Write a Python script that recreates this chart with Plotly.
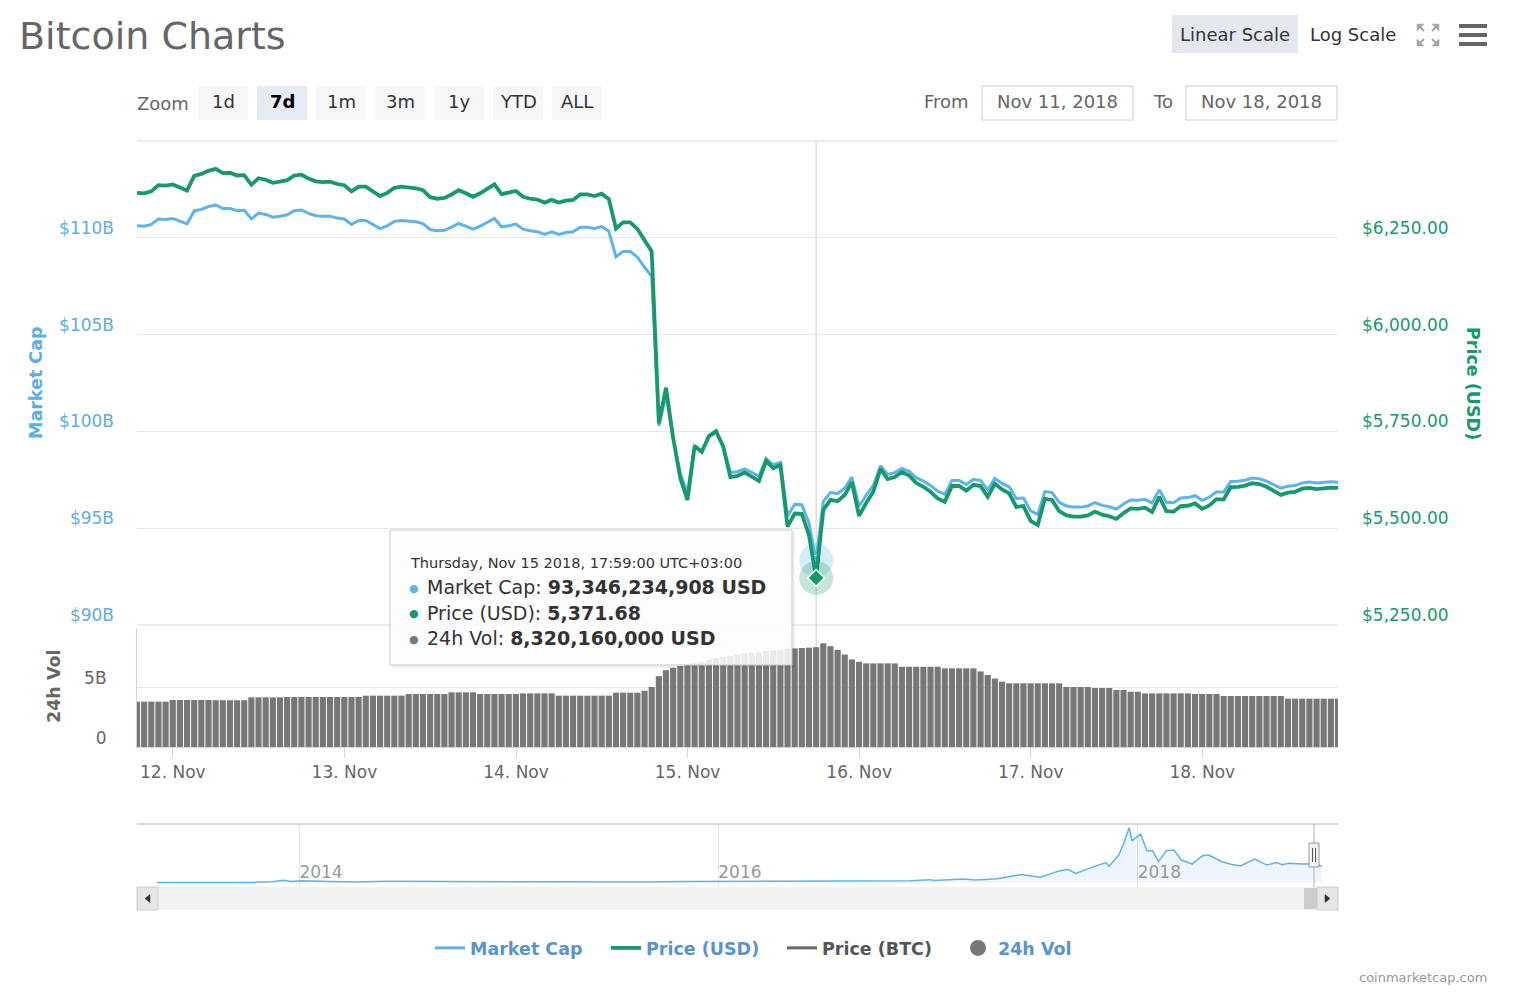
"""Bitcoin Charts (coinmarketcap 7d view) rebuilt with Plotly."""

import pandas as pd
import plotly.graph_objects as go

W, H = 1518, 992
FONT = "DejaVu Sans"
BLUE = "#5fb3e8"
GREEN = "#17996c"
BAR_GREY = "#777777"
LEGEND_BLUE = "#5b93cc"
TEXT = "#666666"
DARK = "#333333"
GRID = "#e6e6e6"
AXIS = "#ccd6eb"

# hourly samples from Nov 11 18:59 to Nov 18 18:59 (UTC+03:00)
START = "2018-11-11 18:59"
HOVER_IDX = 95

price_usd = [
    6366, 6365, 6370, 6386, 6385, 6388, 6380, 6372, 6410, 6415,
    6423, 6428, 6417, 6418, 6411, 6412, 6387, 6404, 6400, 6392,
    6395, 6399, 6411, 6413, 6403, 6396, 6394, 6395, 6389, 6386,
    6370, 6382, 6382, 6370, 6358, 6366, 6379, 6382, 6380, 6378,
    6373, 6355, 6351, 6353, 6362, 6373, 6365, 6356, 6365, 6376,
    6388, 6363, 6366, 6371, 6356, 6351, 6349, 6341, 6348, 6341,
    6346, 6348, 6362, 6362, 6358, 6364, 6350, 6274, 6290, 6290,
    6273, 6243, 6215, 5771, 5863, 5733, 5629, 5573, 5712, 5697,
    5738, 5751, 5711, 5632, 5635, 5644, 5632, 5622, 5674, 5655,
    5663, 5504, 5538, 5537, 5482, 5371.68, 5547, 5573, 5570, 5586,
    5619, 5532, 5565, 5594, 5653, 5627, 5632, 5645, 5636, 5617,
    5607, 5594, 5577, 5568, 5609, 5609, 5597, 5612, 5609, 5581,
    5615, 5600, 5590, 5555, 5557, 5519, 5508, 5576, 5573, 5544,
    5533, 5530, 5530, 5533, 5543, 5535, 5531, 5524, 5539, 5551,
    5550, 5553, 5542, 5581, 5544, 5543, 5557, 5558, 5564, 5550,
    5559, 5575, 5574, 5606, 5607, 5610, 5616, 5614, 5607, 5596,
    5586, 5592, 5594, 5602, 5604, 5601, 5603, 5605, 5604,
]

market_cap_bn = [
    110.62, 110.60, 110.69, 110.97, 110.95, 111.00, 110.86, 110.72, 111.39, 111.47,
    111.61, 111.70, 111.51, 111.52, 111.40, 111.42, 110.98, 111.28, 111.21, 111.07,
    111.12, 111.19, 111.40, 111.44, 111.26, 111.14, 111.11, 111.12, 111.02, 110.97,
    110.69, 110.90, 110.90, 110.69, 110.48, 110.62, 110.85, 110.90, 110.86, 110.83,
    110.74, 110.43, 110.36, 110.39, 110.55, 110.74, 110.60, 110.45, 110.60, 110.79,
    111.00, 110.57, 110.62, 110.71, 110.45, 110.36, 110.32, 110.18, 110.31, 110.18,
    110.27, 110.31, 110.55, 110.55, 110.48, 110.58, 110.34, 109.02, 109.30, 109.30,
    109.00, 108.48, 108.00, 100.28, 101.88, 99.62, 97.81, 96.84, 99.26, 98.99,
    99.71, 99.93, 99.24, 97.87, 97.92, 98.07, 97.87, 97.69, 98.60, 98.27,
    98.40, 95.64, 96.23, 96.21, 95.26, 93.346234908, 96.39, 96.84, 96.79, 97.07,
    97.64, 96.13, 96.70, 97.21, 98.23, 97.78, 97.87, 98.09, 97.94, 97.61,
    97.43, 97.21, 96.91, 96.75, 97.47, 97.47, 97.26, 97.52, 97.47, 96.98,
    97.57, 97.31, 97.14, 96.53, 96.56, 95.90, 95.71, 96.89, 96.84, 96.34,
    96.15, 96.09, 96.09, 96.15, 96.32, 96.18, 96.11, 95.99, 96.25, 96.46,
    96.44, 96.49, 96.30, 96.98, 96.34, 96.32, 96.56, 96.58, 96.68, 96.44,
    96.60, 96.88, 96.86, 97.41, 97.43, 97.48, 97.59, 97.55, 97.43, 97.24,
    97.07, 97.17, 97.21, 97.34, 97.38, 97.33, 97.36, 97.40, 97.38,
]

vol_24h_bn = [
    3.78, 3.78, 3.78, 3.78, 3.78, 3.92, 3.92, 3.92, 3.92, 3.92,
    3.92, 3.90, 3.90, 3.90, 3.90, 3.90, 4.14, 4.14, 4.14, 4.14,
    4.14, 4.17, 4.17, 4.17, 4.17, 4.17, 4.17, 4.17, 4.17, 4.17,
    4.17, 4.17, 4.28, 4.28, 4.28, 4.28, 4.28, 4.28, 4.42, 4.42,
    4.42, 4.42, 4.42, 4.42, 4.56, 4.56, 4.56, 4.56, 4.42, 4.42,
    4.42, 4.42, 4.42, 4.42, 4.47, 4.47, 4.47, 4.47, 4.47, 4.28,
    4.28, 4.28, 4.28, 4.28, 4.28, 4.28, 4.28, 4.53, 4.53, 4.53,
    4.53, 4.69, 5.00, 5.90, 6.40, 6.60, 6.75, 6.85, 6.97, 7.10,
    7.25, 7.40, 7.50, 7.60, 7.70, 7.80, 7.85, 7.90, 8.00, 8.05,
    8.10, 8.20, 8.22, 8.25, 8.28, 8.32016, 8.64, 8.40, 8.10, 7.70,
    7.30, 7.10, 6.97, 6.97, 6.97, 6.97, 6.97, 6.69, 6.69, 6.69,
    6.69, 6.69, 6.69, 6.56, 6.56, 6.56, 6.56, 6.56, 6.30, 6.00,
    5.70, 5.45, 5.31, 5.31, 5.31, 5.31, 5.31, 5.31, 5.31, 5.31,
    5.00, 5.00, 5.00, 5.00, 4.92, 4.92, 4.92, 4.75, 4.75, 4.61,
    4.61, 4.47, 4.47, 4.47, 4.47, 4.47, 4.47, 4.47, 4.42, 4.42,
    4.42, 4.42, 4.25, 4.25, 4.25, 4.25, 4.25, 4.25, 4.25, 4.25,
    4.25, 4.03, 4.03, 4.03, 4.03, 4.03, 4.03, 4.03, 4.03,
]

day_ticks = ["2018-11-12", "2018-11-13", "2018-11-14", "2018-11-15",
             "2018-11-16", "2018-11-17", "2018-11-18"]
day_labels = ["12. Nov", "13. Nov", "14. Nov", "15. Nov", "16. Nov", "17. Nov", "18. Nov"]

mcap_ticks = [90, 95, 100, 105, 110, 115]
mcap_labels = ["$90B", "$95B", "$100B", "$105B", "$110B", ""]
price_ticks = [5250, 5500, 5750, 6000, 6250, 6500]
price_labels = ["$5,250.00", "$5,500.00", "$5,750.00", "$6,000.00", "$6,250.00", ""]
vol_ticks = [0, 5]
vol_labels = ["0", "5B"]

# navigator: whole history of market cap (USD bn)
nav_dates = [
    "2013-04-28", "2013-07-05", "2013-10-01", "2013-11-15", "2013-12-04", "2013-12-18",
    "2014-01-05", "2014-02-25", "2014-04-10", "2014-06-03", "2014-08-01", "2014-10-01",
    "2014-12-01", "2015-01-14", "2015-03-01", "2015-06-01", "2015-07-12", "2015-09-01",
    "2015-11-04", "2015-12-15", "2016-01-15", "2016-03-01", "2016-06-17", "2016-08-02",
    "2016-10-01", "2016-12-01", "2017-01-04", "2017-01-11", "2017-03-03", "2017-03-24",
    "2017-05-01", "2017-05-25", "2017-06-11", "2017-07-15", "2017-08-17", "2017-09-01",
    "2017-09-15", "2017-10-20", "2017-11-07", "2017-11-12", "2017-11-29", "2017-12-07",
    "2017-12-17", "2017-12-22", "2018-01-06", "2018-01-17", "2018-01-27", "2018-02-06",
    "2018-02-20", "2018-03-05", "2018-03-18", "2018-04-06", "2018-04-24", "2018-05-05",
    "2018-05-28", "2018-06-12", "2018-06-29", "2018-07-24", "2018-08-14", "2018-08-31",
    "2018-09-10", "2018-09-21", "2018-10-15", "2018-11-07", "2018-11-18",
]
nav_mcap_bn = [
    1.5, 1.0, 1.5, 5, 13.5, 6.5,
    11, 6.5, 4.5, 8, 7.5, 5,
    5, 2.5, 3.5, 3.2, 4.3, 3.4,
    6.5, 7, 5.8, 6.5, 12, 8.5,
    9.5, 12, 18, 13, 21, 15.5,
    23, 40, 48, 32, 70, 80,
    55, 100, 120, 98, 165, 230,
    326, 250, 290, 190, 190, 125,
    190, 195, 135, 112, 160, 165,
    125, 110, 100, 140, 105, 120,
    107, 116, 112, 113, 97,
]
nav_ticks = ["2014-01-01", "2016-01-01", "2018-01-01"]
nav_labels = ["2014", "2016", "2018"]

zoom_buttons = ["1d", "7d", "1m", "3m", "1y", "YTD", "ALL"]
SELECTED_ZOOM = "7d"


def px(x):
    return x / W


def py(y):
    return 1 - y / H


def rect(x0, y0, x1, y1, fill, line=None, width=1, layer="above"):
    return dict(type="rect", xref="paper", yref="paper",
                x0=px(x0), x1=px(x1), y0=py(y1), y1=py(y0),
                fillcolor=fill, layer=layer,
                line=dict(color=line or fill, width=width if line else 0))


def hline(x0, x1, y, color, width=1, layer="above"):
    return dict(type="line", xref="paper", yref="paper", x0=px(x0), x1=px(x1),
                y0=py(y), y1=py(y), line=dict(color=color, width=width), layer=layer)


def vline(x, y0, y1, color, width=1):
    return dict(type="line", xref="paper", yref="paper", x0=px(x), x1=px(x),
                y0=py(y0), y1=py(y1), line=dict(color=color, width=width))


def poly(points, fill):
    d = "M " + " L ".join(f"{px(x):.5f},{py(y):.5f}" for x, y in points) + " Z"
    return dict(type="path", xref="paper", yref="paper", path=d,
                fillcolor=fill, line=dict(color=fill, width=0.5))


def label(x, y, s, size=18, color=TEXT, xanchor="center", angle=0, weight="normal"):
    return dict(x=px(x), y=py(y), xref="paper", yref="paper", text=s, showarrow=False,
                xanchor=xanchor, yanchor="middle", textangle=angle,
                font=dict(family=FONT, size=size, color=color, weight=weight))


times = pd.date_range(START, periods=len(price_usd), freq="h")
t_hover = times[HOVER_IDX]

fig = go.Figure()

fig.add_trace(go.Scatter(
    x=times, y=market_cap_bn, mode="lines", yaxis="y",
    name=f'<span style="color:{LEGEND_BLUE}">Market Cap</span>',
    line=dict(color=BLUE, width=3), legendrank=1,
))
fig.add_trace(go.Scatter(
    x=times, y=price_usd, mode="lines", yaxis="y2",
    name=f'<span style="color:{LEGEND_BLUE}">Price (USD)</span>',
    line=dict(color=GREEN, width=3.8), legendrank=2,
))
fig.add_trace(go.Scatter(
    x=[None], y=[None], mode="lines", yaxis="y",
    name='<span style="color:#555555">Price (BTC)</span>',
    line=dict(color="#666666", width=3), legendrank=3,
))
fig.add_trace(go.Bar(
    x=times, y=vol_24h_bn, yaxis="y3", marker=dict(color=BAR_GREY, line=dict(width=0)),
    showlegend=False, name="24h Vol",
))
fig.add_trace(go.Scatter(
    x=[None], y=[None], mode="markers", yaxis="y3",
    name=f'<span style="color:{LEGEND_BLUE}">24h Vol</span>',
    marker=dict(color=BAR_GREY, size=17, symbol="circle"), legendrank=4,
))

# navigator
fig.add_trace(go.Scatter(
    x=pd.to_datetime(nav_dates), y=nav_mcap_bn, xaxis="x2", yaxis="y4", mode="lines",
    fill="tozeroy", fillcolor="rgba(124,181,236,0.13)",
    line=dict(color=BLUE, width=1.5), showlegend=False,
))

# hovered points
fig.add_trace(go.Scatter(
    x=[t_hover], y=[market_cap_bn[HOVER_IDX]], yaxis="y", mode="markers", showlegend=False,
    marker=dict(size=34, color=BLUE, opacity=0.25),
))
fig.add_trace(go.Scatter(
    x=[t_hover], y=[market_cap_bn[HOVER_IDX]], yaxis="y", mode="markers", showlegend=False,
    marker=dict(size=10, color=BLUE, line=dict(color="white", width=1)),
))
fig.add_trace(go.Scatter(
    x=[t_hover], y=[price_usd[HOVER_IDX]], yaxis="y2", mode="markers", showlegend=False,
    marker=dict(size=34, color=GREEN, opacity=0.25),
))
fig.add_trace(go.Scatter(
    x=[t_hover], y=[price_usd[HOVER_IDX]], yaxis="y2", mode="markers", showlegend=False,
    marker=dict(size=13, color=GREEN, symbol="diamond", line=dict(color="white", width=1.5)),
))

X_DOM = [px(137), px(1338)]

shapes = [
    # top and bottom edges of the price pane
    hline(137, 1338, 141, GRID, 1.5, layer="below"),
    hline(137, 1338, 625, GRID, 1.5, layer="below"),
    # crosshair
    dict(type="line", xref="x", yref="paper", x0=t_hover, x1=t_hover,
         y0=py(747), y1=py(141), line=dict(color="#cccccc", width=1), layer="below"),
    # header buttons
    rect(1172, 15, 1298, 53, "#e4e8ee"),
    rect(1459, 24, 1487, 28, "#666666"),
    rect(1459, 33, 1487, 37, "#666666"),
    rect(1459, 42, 1487, 46, "#666666"),
    # from / to inputs
    rect(982, 86, 1133, 120, "white", line="#cccccc"),
    rect(1186, 86, 1337, 120, "white", line="#cccccc"),
    # navigator chrome
    hline(137, 1338, 824, "#cccccc", 1.5),
    vline(1314, 824, 887, "#b3b3b3", 1),
    rect(137, 887, 1338, 910, "#f2f2f2"),
    rect(137, 887, 158, 910, "#e6e6e6", line="#cccccc"),
    rect(1317, 887, 1338, 910, "#e6e6e6", line="#cccccc"),
    rect(1304, 888, 1317, 909, "#cccccc"),
    poly([(150, 894.5), (145, 898.5), (150, 902.5)], "#333333"),
    poly([(1325, 894.5), (1330, 898.5), (1325, 902.5)], "#333333"),
    rect(1309, 843, 1319, 867, "#f2f2f2", line="#999999"),
    vline(1312.5, 848, 862, "#555555"),
    vline(1315.5, 848, 862, "#555555"),
    # tooltip
    rect(392, 532, 795, 668, "rgba(0,0,0,0.06)", layer="above"),
    rect(390, 530, 792, 665, "rgba(255,255,255,0.86)", line="#c8c8c8"),
]

# full-screen icon: four corner arrows
cx, cy, r = 1428, 35, 11
for sx, sy in [(-1, -1), (1, -1), (-1, 1), (1, 1)]:
    ax, ay = cx + sx * r, cy + sy * r
    shapes.append(poly([(ax, ay), (ax - sx * 7, ay), (ax, ay - sy * 7)], "#a6a6a6"))
    shapes.append(dict(type="line", xref="paper", yref="paper",
                       x0=px(ax - sx * 2), y0=py(ay - sy * 2),
                       x1=px(ax - sx * 7), y1=py(ay - sy * 7),
                       line=dict(color="#a6a6a6", width=2)))

annotations = [
    label(17, 36, "Bitcoin Charts", size=38, color=TEXT, xanchor="left"),
    label(1235, 34, "Linear Scale", size=18, color=DARK),
    label(1353, 34, "Log Scale", size=18, color=DARK),
    label(163, 103, "Zoom", size=18, color=TEXT),
    label(946, 101, "From", size=18, color=TEXT),
    label(1057.5, 102, "Nov 11, 2018", size=18, color=TEXT),
    label(1163, 101, "To", size=18, color=TEXT),
    label(1261.5, 102, "Nov 18, 2018", size=18, color=TEXT),
    # axis titles
    label(36, 383, "Market Cap", size=17.5, color="#5eade4", angle=-90, weight="bold"),
    label(1473, 383, "Price (USD)", size=17.5, color=GREEN, angle=90, weight="bold"),
    label(54, 686, "24h Vol", size=17.5, color=TEXT, angle=-90, weight="bold"),
    label(1489, 977, "coinmarketcap.com", size=13, color="#999999", xanchor="right"),
]

for i, name in enumerate(zoom_buttons):
    x0 = 198 + i * 59
    selected = name == SELECTED_ZOOM
    shapes.append(rect(x0, 86, x0 + 50, 120, "#e6ebf5" if selected else "#f7f7f7"))
    annotations.append(label(x0 + 25, 101, name, size=18,
                             color="#000000" if selected else DARK,
                             weight="bold" if selected else "normal"))

# tooltip text, built from the hovered sample
tt_time = t_hover.strftime("%A, %b %d %Y, %H:%M:%S") + " UTC+03:00"
tt_rows = [
    (BLUE, "Market Cap", f"{market_cap_bn[HOVER_IDX] * 1e9:,.0f} USD"),
    (GREEN, "Price (USD)", f"{price_usd[HOVER_IDX]:,.2f}"),
    (BAR_GREY, "24h Vol", f"{vol_24h_bn[HOVER_IDX] * 1e9:,.0f} USD"),
]
annotations.append(label(408, 563, tt_time, size=14.5, color=DARK, xanchor="left"))
for j, (col, key, val) in enumerate(tt_rows):
    row_y = 587 + j * 25.5
    annotations.append(label(414, row_y + 1, "●", size=11, color=col))
    annotations.append(label(425, row_y, f"{key}: <b>{val}</b>",
                             size=19, color=DARK, xanchor="left"))

fig.update_layout(
    width=W, height=H, template="none",
    margin=dict(l=0, r=0, t=0, b=0),
    paper_bgcolor="white", plot_bgcolor="white",
    font=dict(family=FONT, size=17, color=TEXT),
    hovermode=False, bargap=0.14,
    showlegend=True,
    legend=dict(orientation="h", x=px(430), xanchor="left", y=py(948), yanchor="middle",
                font=dict(family=FONT, size=17.5, weight="bold"),
                entrywidth=131, bgcolor="rgba(0,0,0,0)", traceorder="normal"),
    xaxis=dict(domain=X_DOM, anchor="y3", type="date", range=[times[0], times[-1]],
               tickvals=day_ticks, ticktext=day_labels, ticks="outside", ticklen=10,
               tickcolor=AXIS, showline=True, linecolor=AXIS, showgrid=False,
               zeroline=False, tickfont=dict(size=17, color=TEXT)),
    yaxis=dict(domain=[py(625), py(141)], anchor="x", range=[90, 115.002],
               tickvals=mcap_ticks, ticktext=mcap_labels, showgrid=True, gridcolor=GRID,
               gridwidth=1, zeroline=False, showline=False, ticks="",
               tickfont=dict(size=17, color="#5eade4"),
               ticklabelshift=-10, ticklabelstandoff=22),
    yaxis2=dict(overlaying="y", side="right", anchor="x", range=[5250, 6500.1],
                tickvals=price_ticks, ticktext=price_labels, showgrid=False,
                zeroline=False, showline=False, ticks="",
                tickfont=dict(size=17, color=GREEN),
                ticklabelshift=-10, ticklabelstandoff=23),
    yaxis3=dict(domain=[py(747), py(628)], anchor="x", range=[0, 9.92],
                tickvals=vol_ticks, ticktext=vol_labels, showgrid=True, gridcolor=GRID,
                zeroline=False, showline=True, linecolor=AXIS, ticks="",
                tickfont=dict(size=17, color=TEXT),
                ticklabelshift=-9, ticklabelstandoff=26),
    xaxis2=dict(domain=X_DOM, anchor="y4", type="date",
                range=["2013-03-24", "2018-12-16"],
                tickvals=nav_ticks, ticktext=nav_labels, ticklabelposition="inside right",
                showgrid=True, gridcolor=GRID, ticks="", showline=False, zeroline=False,
                tickfont=dict(size=17, color="#999999")),
    yaxis4=dict(domain=[py(887), py(824)], anchor="x2", range=[-26, 350],
                showticklabels=False, showgrid=False, zeroline=False, ticks=""),
    shapes=shapes,
    annotations=annotations,
)

fig.write_html(
    "out.html",
    config={"displayModeBar": False, "staticPlot": True},
    post_script="document.body.style.margin='0';document.body.style.overflow='hidden';",
)
